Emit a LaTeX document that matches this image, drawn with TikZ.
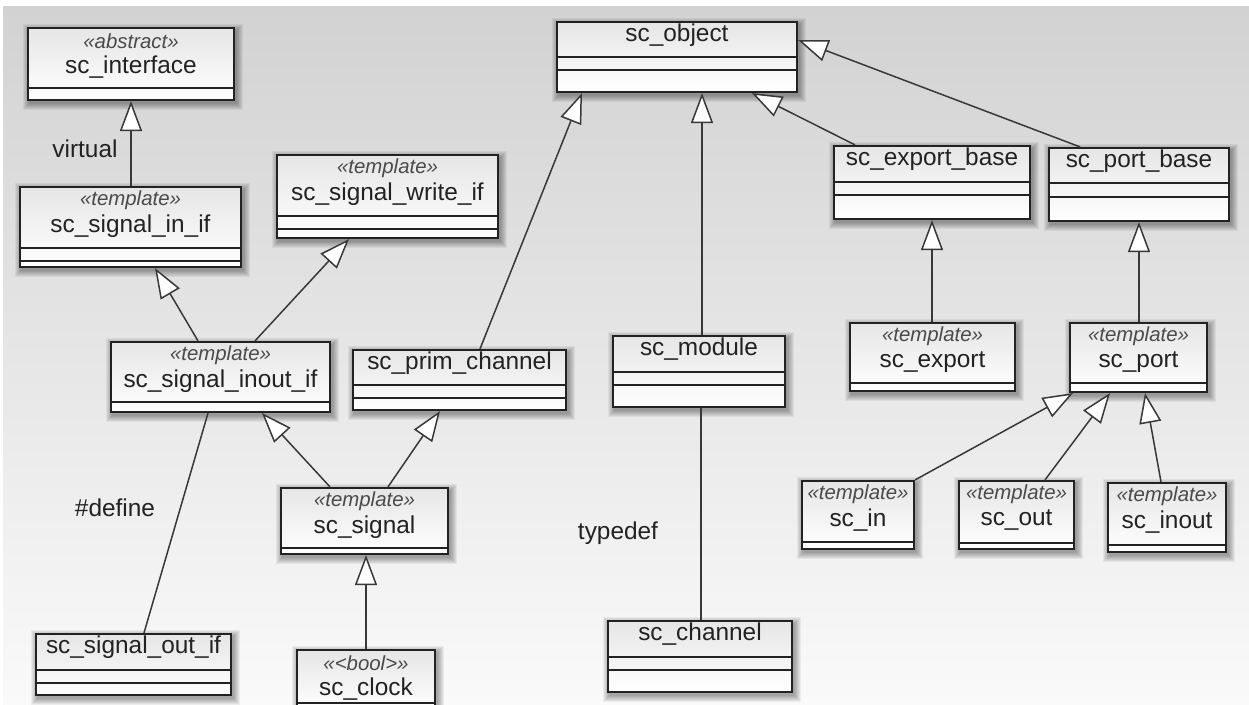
\documentclass[tikz,border=0pt]{standalone}
\usepackage{fontspec}
\setmainfont{Liberation Sans}
\usetikzlibrary{arrows.meta,calc}
\definecolor{ink}{HTML}{222222}
\definecolor{stcol}{HTML}{4A4A4A}
\definecolor{bgtop}{HTML}{D2D2D2}
\definecolor{bgbot}{HTML}{FAFAFA}
\tikzset{
  classbox/.style={draw=ink, line width=1.1pt, top color=black!10, bottom color=white, inner sep=0pt, rectangle},
  complin/.style={draw=ink, line width=1pt},
  nametext/.style={font=\fontsize{12.2}{14}\selectfont, text=ink, inner sep=0pt},
  stereo/.style={font=\fontsize{10.2}{12}\selectfont\itshape, text=stcol, inner sep=0pt},
  lbl/.style={font=\fontsize{12.2}{14}\selectfont, text=ink, inner sep=0pt},
  gen/.style={draw=ink!90, line width=0.75pt, -{Triangle[fill=white, length=15pt, width=11pt, line width=0.75pt]}},
  plainline/.style={draw=ink!90, line width=0.75pt}
}
\newcommand\umlshadow[4]{%
  \foreach \k in {1,...,7}{\fill[black,opacity=0.055] (#1-\k+2,#2-\k+3) rectangle (#3+\k+2,#4+\k+3);}}
% #1 name, #2 x1, #3 y1, #4 x2, #5 y2, #6 lines, #7 title
\newcommand\clsplain[7]{%
  \umlshadow{#2}{#3}{#4}{#5}
  \node[classbox, minimum width={(#4-#2)*0.5pt}, minimum height={(#5-#3)*0.5pt}] (#1) at ({(#2+#4)/2},{(#3+#5)/2}) {};
  \foreach \ly in {#6}{\draw[complin] (#2,\ly) -- (#4,\ly);}
  \node[nametext] (#1-n) at ({(#2+#4)/2},{#3+13}) {#7};
}
% #8 stereotype
\newcommand\clsst[8]{%
  \umlshadow{#2}{#3}{#4}{#5}
  \node[classbox, minimum width={(#4-#2)*0.5pt}, minimum height={(#5-#3)*0.5pt}] (#1) at ({(#2+#4)/2},{(#3+#5)/2}) {};
  \foreach \ly in {#6}{\draw[complin] (#2,\ly) -- (#4,\ly);}
  \node[stereo] (#1-s) at ({(#2+#4)/2},{#3+13}) {#8};
  \node[nametext] (#1-n) at ({(#2+#4)/2},{#3+39}) {#7};
}
\begin{document}
\begin{tikzpicture}[x=0.5pt, y=-0.5pt]
\useasboundingbox (0,0) rectangle (1249,705);
\clip (0,0) rectangle (1249,705);
\fill[white] (0,0) rectangle (1249,705);
\shade[top color=bgtop, bottom color=bgbot] (3,7) rectangle (1249,705);

\clsst{iface}{28}{28}{234}{100}{88}{sc\_interface}{«abstract»}
\clsst{sigin}{20}{187}{241}{267}{248,261}{sc\_signal\_in\_if}{«template»}
\clsst{write}{277}{155}{498}{238}{216,229}{sc\_signal\_write\_if}{«template»}
\clsst{inout}{111}{342}{330}{412}{402}{sc\_signal\_inout\_if}{«template»}
\clsplain{prim}{353}{350}{566}{410}{385,398}{sc\_prim\_channel}
\clsplain{obj}{557}{22}{797}{92}{57,70}{sc\_object}
\clsplain{module}{613}{336}{785}{407}{372,385}{sc\_module}
\clsplain{expb}{834}{146}{1030}{219}{182,195}{sc\_export\_base}
\clsplain{portb}{1049}{148}{1229}{221}{183,197}{sc\_port\_base}
\clsst{export}{850}{323}{1015}{391}{383}{sc\_export}{«template»}
\clsst{port}{1070}{323}{1207}{392}{383}{sc\_port}{«template»}
\clsst{sin}{802}{481}{914}{549}{542}{sc\_in}{«template»}
\clsst{sout}{959}{481}{1074}{549}{543}{sc\_out}{«template»}
\clsst{sinout}{1108}{483}{1226}{552}{545}{sc\_inout}{«template»}
\clsst{sig}{281}{488}{448}{554}{548}{sc\_signal}{«template»}
\clsst{clock}{297}{650}{435}{712}{703}{sc\_clock}{«<bool>»}
\clsplain{soutif}{36}{634}{231}{695}{670,683}{sc\_signal\_out\_if}
\clsplain{chan}{608}{621}{792}{692}{657,670}{sc\_channel}

% generalizations
\draw[gen] (131,0 |- sigin.north) -- (131,0 |- iface.south);
\draw[gen] (198,0 |- inout.north) -- (155,0 |- sigin.south);
\draw[gen] (255,0 |- inout.north) -- (349,0 |- write.south);
\draw[gen] (480,0 |- prim.north) -- (582,0 |- obj.south);
\draw[gen] (702,0 |- module.north) -- (702,0 |- obj.south);
\draw[gen] (855,0 |- expb.north) -- (752,0 |- obj.south);
\draw[gen] (1080,0 |- portb.north) -- (obj.east |- 0,40);
\draw[gen] (932,0 |- export.north) -- (932,0 |- expb.south);
\draw[gen] (1139,0 |- port.north) -- (1139,0 |- portb.south);
\draw[gen] (sin.north east) -- (1073,0 |- port.south);
\draw[gen] (1045,0 |- sout.north) -- (1110,0 |- port.south);
\draw[gen] (1161,0 |- sinout.north) -- (1145,0 |- port.south);
\draw[gen] (330,0 |- sig.north) -- (262,0 |- inout.south);
\draw[gen] (388,0 |- sig.north) -- (440,0 |- prim.south);
\draw[gen] (366,0 |- clock.north) -- (366,0 |- sig.south);
% plain links
\draw[plainline] (144,0 |- soutif.north) -- (208,0 |- inout.south);
\draw[plainline] (701,0 |- chan.north) -- (701,0 |- module.south);

\node[lbl] (lvirtual) at (85,149) {virtual};
\node[lbl] (ldefine) at (115,508) {\#define};
\node[lbl] (ltypedef) at (618,533) {typedef};
\end{tikzpicture}
\end{document}
